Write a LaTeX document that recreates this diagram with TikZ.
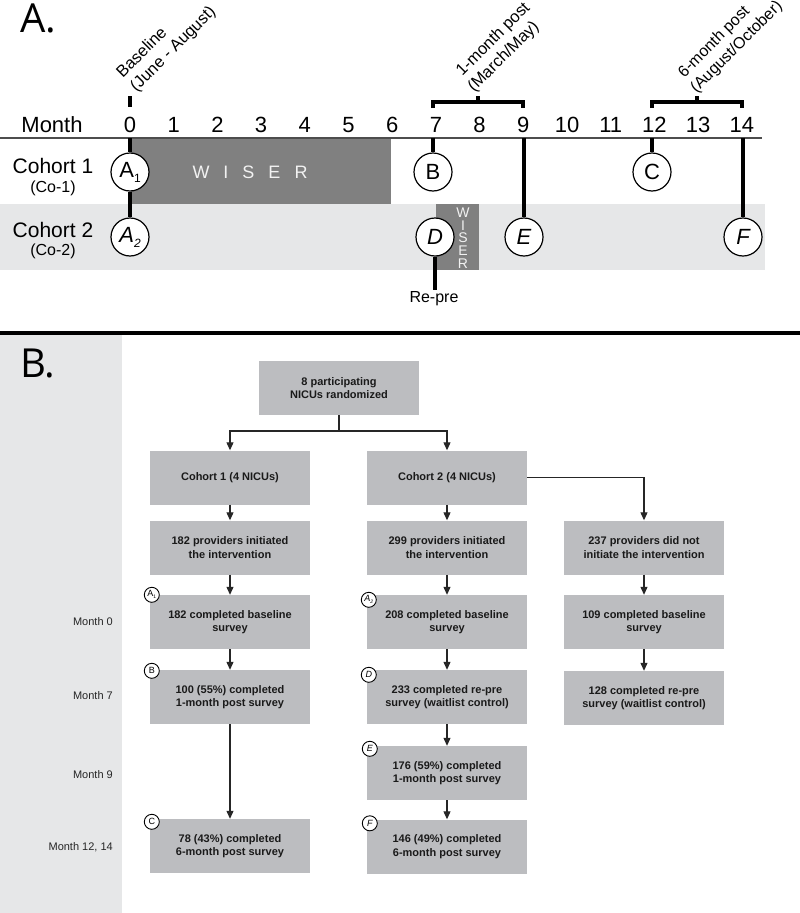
\documentclass[tikz,border=0pt]{standalone}
\usepackage{fontspec}
\setmainfont{Liberation Sans}
\newfontfamily\panelfont{Open Sans}
\usetikzlibrary{arrows.meta}
\definecolor{bandgray}{HTML}{E6E7E8}
\definecolor{wisergray}{HTML}{808080}
\definecolor{boxgray}{HTML}{BCBDC0}
\definecolor{axisgray}{HTML}{4D4D4D}
\definecolor{txtdark}{HTML}{1A1A1A}
\newcommand{\myfs}[1]{\fontsize{#1}{#1}\selectfont}
\begin{document}
\begin{tikzpicture}[x=1pt,y=-1pt,
  bigcirc/.style={circle, draw=black, line width=1.2pt, fill=white, minimum size=38pt, inner sep=0pt, font=\myfs{22}},
  smallcirc/.style={circle, draw=black, line width=0.9pt, fill=white, minimum size=15pt, inner sep=0pt, font=\myfs{9}},
  fbox/.style={fill=boxgray, minimum width=160pt, minimum height=54pt, inner sep=0pt, align=center, text=txtdark, font=\bfseries\fontsize{11}{13.5}\selectfont},
  vline/.style={line width=4pt, draw=black},
  bracketline/.style={line width=3.5pt, draw=black},
  arr/.style={line width=1.1pt, draw=black!85, -{Triangle[length=8pt,width=7pt]}},
  plainline/.style={line width=1.1pt, draw=black!85},
  rotlabel/.style={rotate=45, anchor=south west, inner sep=0pt, align=left, font=\fontsize{16.5}{19.5}\selectfont},
  axisnum/.style={anchor=base, inner sep=0pt, font=\myfs{22}},
  sidelabel/.style={anchor=east, inner sep=0pt, text=black!85, font=\myfs{11}},
]
\fill[white] (0,0) rectangle (800,913);
\useasboundingbox (0,0) rectangle (800,913);

% ---------------- Panel A ----------------
\node[anchor=base west, inner sep=0pt, font=\panelfont\myfs{40}] (labA) at (20,32) {A.};

% rows
\fill[bandgray] (0,204) rectangle (765,270);
\fill[wisergray] (131,138) rectangle (391,204);
\node[text=white!95!black, font=\myfs{18}] (wiserbig) at (250,172) {W\hspace{14pt}I\hspace{14pt}S\hspace{14pt}E\hspace{14pt}R};
\fill[wisergray] (436,204) rectangle (479,270);
\node[text=white!95!black, align=center, inner sep=0pt, font=\fontsize{14}{12.6}\selectfont] (wisersmall) at (463,238) {W\\I\\S\\E\\R};

% axis
\draw[axisgray, line width=1.5pt] (0,138) -- (762,138);
\node[axisnum] (monthlab) at (52,132) {Month};
\foreach \m in {0,...,14} {
  \node[axisnum] (m\m) at ({130+43.7*\m},132) {\m};
}

% row labels
\node[anchor=base, inner sep=0pt, font=\myfs{21}] (co1) at (53,173) {Cohort 1};
\node[anchor=base, inner sep=0pt, font=\myfs{16}] (co1s) at (53,192) {(Co-1)};
\node[anchor=base, inner sep=0pt, font=\myfs{21}] (co2) at (53,237) {Cohort 2};
\node[anchor=base, inner sep=0pt, font=\myfs{16}] (co2s) at (53,255) {(Co-2)};

% brackets
\draw[bracketline] (433,108) -- (433,102) -- (523,102) -- (523,108);
\draw[bracketline] (478,102) -- (478,96);
\draw[bracketline] (652,108) -- (652,102) -- (742,102) -- (742,108);
\draw[bracketline] (697,102) -- (697,96);

% rotated labels
\node[rotlabel] (bl) at (139,95) {Baseline\\(June - August)};
\node[rotlabel] (om) at (476.5,95.5) {\hspace*{3pt}1-month post\\(March/May)};
\node[rotlabel, font=\fontsize{16}{19.5}\selectfont] (sm) at (699,96) {\hspace*{2pt}6-month post\\(August/October)};

% timeline marks
\coordinate (tick0top) at (130,96);
\coordinate (tick0bot) at (130,107);
\coordinate (ax0) at (130,138);
\coordinate (ax7) at (433,138);
\coordinate (ax9) at (524,138);
\coordinate (ax12) at (652,138);
\coordinate (ax14) at (743,138);
\coordinate (repre) at (435,290);
\draw[vline] (tick0top) -- (tick0bot);

\node[bigcirc] (A1) at (130,172) {A\raisebox{-5pt}{\myfs{12}1}};
\node[bigcirc] (A2) at (130,237) {\itshape A\raisebox{-5pt}{\myfs{12}2}};
\node[bigcirc] (B) at (433,172) {B};
\node[bigcirc] (C) at (652,172) {C};
\node[bigcirc] (D) at (435,237) {\itshape D};
\node[bigcirc] (E) at (524,237) {\itshape E};
\node[bigcirc] (F) at (743,237) {\itshape F};

\draw[vline] (ax0) -- (A1.north);
\draw[vline] (A1.south) -- (A2.north);
\draw[vline] (ax7) -- (B.north);
\draw[vline] (ax12) -- (C.north);
\draw[vline] (ax9) -- (E.north);
\draw[vline] (ax14) -- (F.north);
\draw[vline] (D.south) -- (repre);
\node[anchor=base, inner sep=0pt, font=\myfs{16}] (repretxt) at (434,302) {Re-pre};

% ---------------- Panel B ----------------
\draw[line width=4pt] (0,333) -- (800,333);
\fill[bandgray] (0,335) rectangle (122,913);
\node[anchor=base west, inner sep=0pt, font=\panelfont\myfs{40}] (labB) at (20,377) {B.};

\node[sidelabel] (s0) at (113,622) {Month 0};
\node[sidelabel] (s7) at (113,696) {Month 7};
\node[sidelabel] (s9) at (113,775) {Month 9};
\node[sidelabel] (s12) at (113,847) {Month 12, 14};

\node[fbox] (top) at (339,388) {8 participating\\NICUs randomized};
\node[fbox] (c1) at (230,477.5) {Cohort 1 (4 NICUs)};
\node[fbox] (c2) at (447,477.5) {Cohort 2 (4 NICUs)};
\node[fbox] (p1) at (230,547.5) {182 providers initiated\\the intervention};
\node[fbox] (p2) at (447,547.5) {299 providers initiated\\the intervention};
\node[fbox] (r1) at (644,547.5) {237 providers did not\\initiate the intervention};
\node[fbox] (b1) at (230,622) {182 completed baseline\\survey};
\node[fbox] (b2) at (447,622) {208 completed baseline\\survey};
\node[fbox] (r2) at (644,622) {109 completed baseline\\survey};
\node[fbox] (m7) at (230,697) {100 (55\%) completed\\1-month post survey};
\node[fbox] (d2) at (447,697) {233 completed re-pre\\survey (waitlist control)};
\node[fbox] (r3) at (644,698) {128 completed re-pre\\survey (waitlist control)};
\node[fbox] (e2) at (447,773) {176 (59\%) completed\\1-month post survey};
\node[fbox] (m12) at (230,846) {78 (43\%) completed\\6-month post survey};
\node[fbox] (f2) at (447,846.5) {146 (49\%) completed\\6-month post survey};

\coordinate (split) at (339,431);
\draw[plainline] (top.south) -- (split);
\draw[arr] (split) -| (c1.north);
\draw[arr] (split) -| (c2.north);
\draw[arr] (c2.east) -| (r1.north);
\draw[arr] (c1.south) -- (p1.north);
\draw[arr] (p1.south) -- (b1.north);
\draw[arr] (b1.south) -- (m7.north);
\draw[arr] (m7.south) -- (m12.north);
\draw[arr] (c2.south) -- (p2.north);
\draw[arr] (p2.south) -- (b2.north);
\draw[arr] (b2.south) -- (d2.north);
\draw[arr] (d2.south) -- (e2.north);
\draw[arr] (e2.south) -- (f2.north);
\draw[arr] (r1.south) -- (r2.north);
\draw[arr] (r2.south) -- (r3.north);

\node[smallcirc] (sa1) at ([shift={(2,0)}]b1.north west) {A\raisebox{-2pt}{\myfs{5}1}};
\node[smallcirc] (sb) at ([shift={(2,1)}]m7.north west) {B};
\node[smallcirc] (sc) at ([shift={(2,3)}]m12.north west) {C};
\node[smallcirc] (sa2) at ([shift={(2,5)}]b2.north west) {\itshape A\raisebox{-2pt}{\myfs{5}2}};
\node[smallcirc] (sd) at ([shift={(2,5)}]d2.north west) {\itshape D};
\node[smallcirc] (se) at ([shift={(3,3)}]e2.north west) {\itshape E};
\node[smallcirc] (sf) at ([shift={(3,4)}]f2.north west) {\itshape F};
\end{tikzpicture}
\end{document}
